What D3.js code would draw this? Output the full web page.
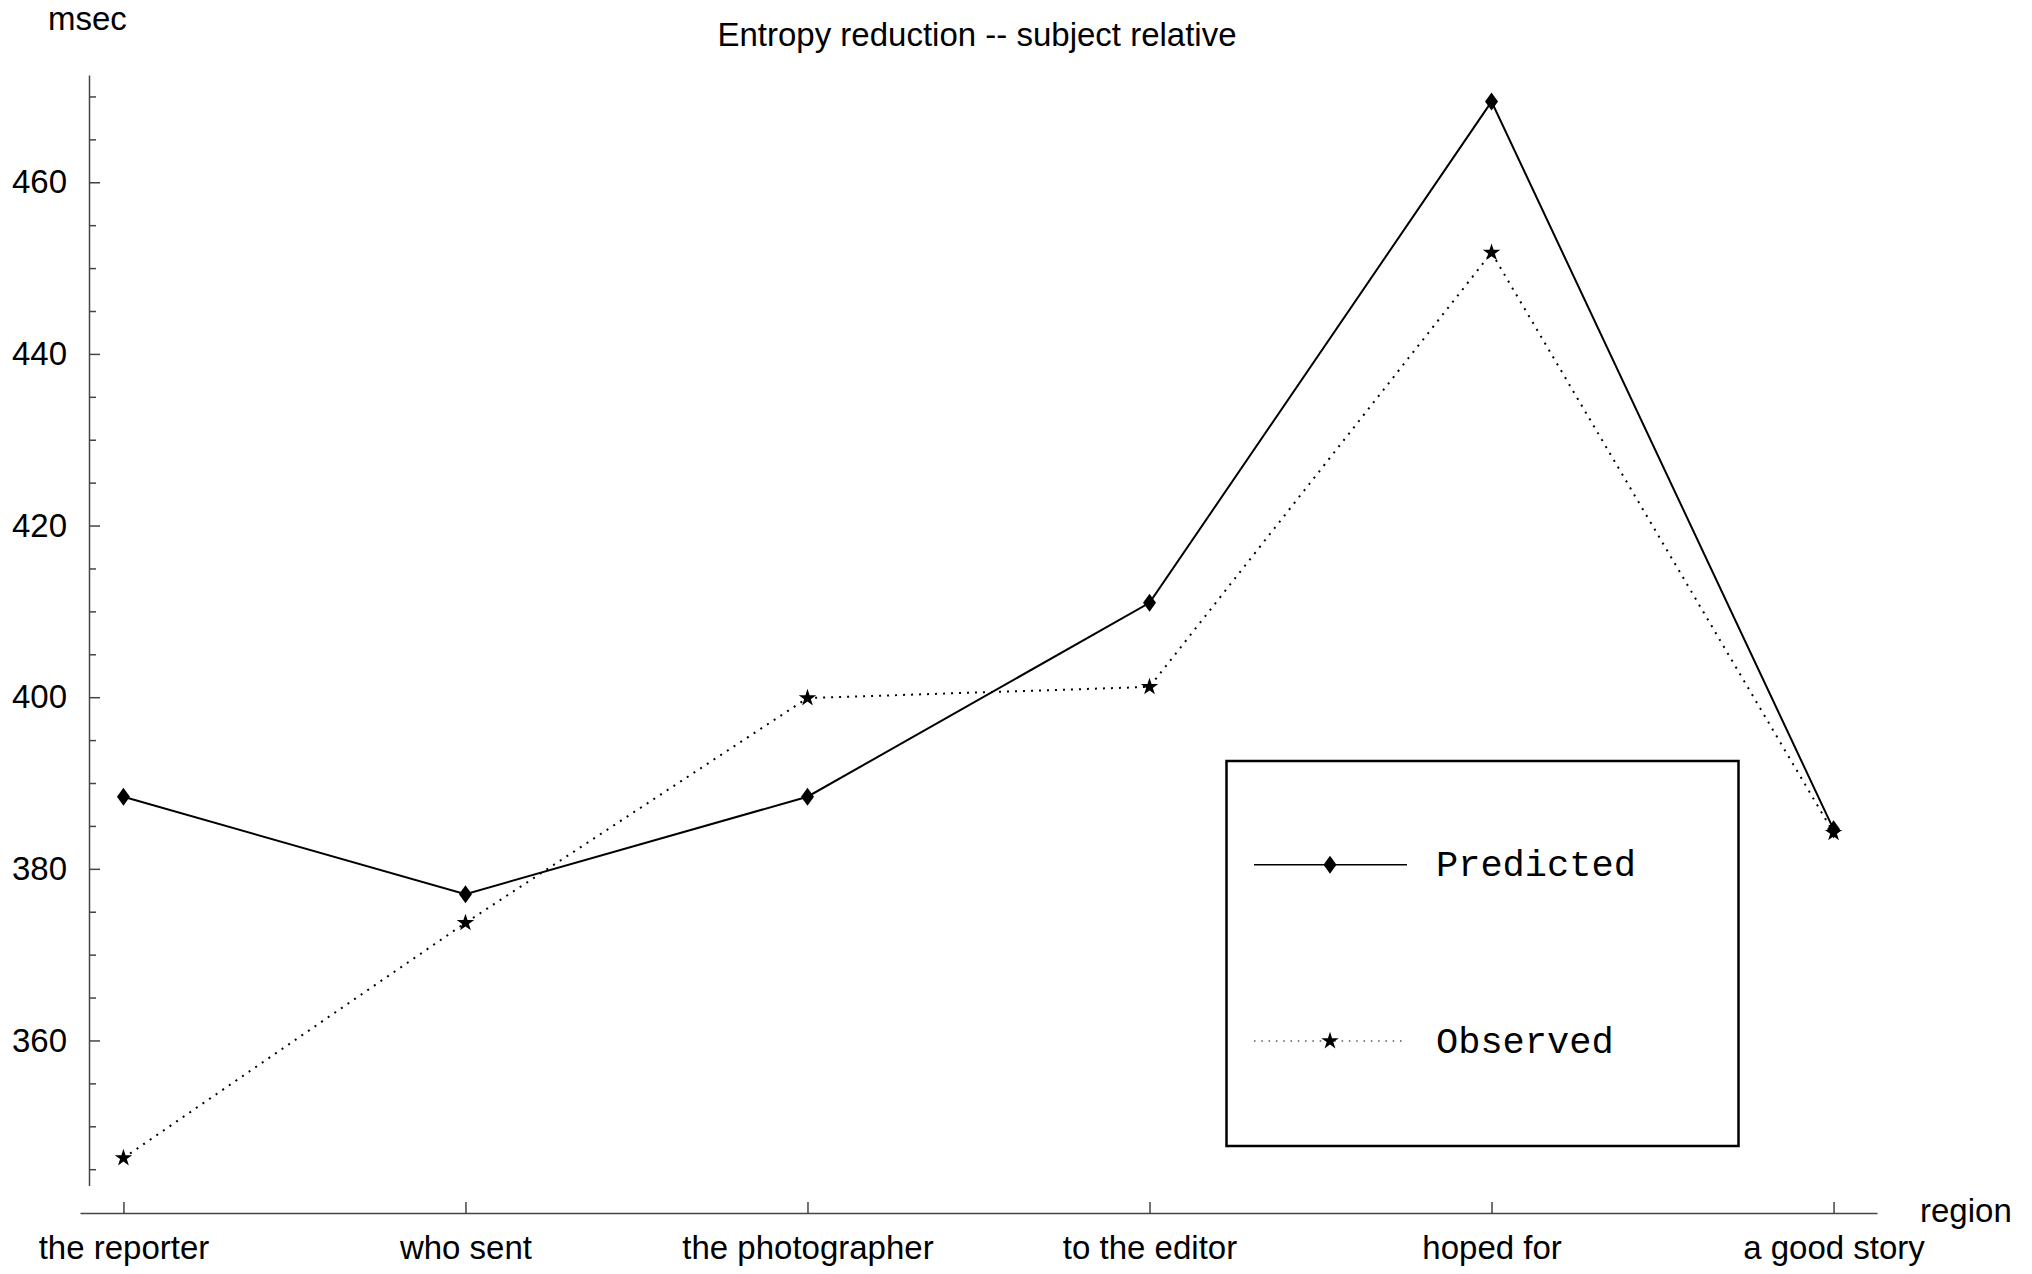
<!DOCTYPE html>
<html>
<head>
<meta charset="utf-8">
<script src="https://cdn.jsdelivr.net/npm/d3@7"></script>
<style>
  body { margin: 0; background: #fff; }
  text { font-family: "Liberation Sans", Arial, sans-serif; fill: #000; }
</style>
</head>
<body>
<div id="chart_div"></div>
<script>
// data
const regions = ["the reporter", "who sent", "the photographer", "to the editor", "hoped for", "a good story"];
const predicted = [388.4, 377.05, 388.4, 411.0, 469.4, 384.6];
const observed = [346.3, 373.7, 399.9, 401.2, 451.8, 384.2];
const majorTicks = [360, 380, 400, 420, 440, 460];
const minorTicks = [345, 350, 355, 365, 370, 375, 385, 390, 395, 405, 410, 415, 425, 430, 435, 445, 450, 455, 465, 470];
const seriesNames = ["Predicted", "Observed"];

const WIDTH = 2032;
const HEIGHT = 1274;
const FONT_SIZE = 33;

var svg = d3.select("#chart_div")
    .append("svg")
    .attr("width", WIDTH)
    .attr("height", HEIGHT);

var x = d3.scalePoint()
    .domain(regions)
    .range([80, 1877])
    .padding(0.127);

var y = d3.scaleLinear()
    .domain([343.1, 472.5])
    .range([1185.5, 75]);

const AXIS_X = 89;
const AXIS_Y = 1213;

// y axis, ticks point inward
var yAxis = svg.append("g")
    .attr("transform", "translate(" + AXIS_X + ",0)")
    .call(d3.axisLeft(y).tickValues(majorTicks).tickSizeInner(-11).tickSizeOuter(0).tickPadding(22));

svg.append("g")
    .attr("transform", "translate(" + AXIS_X + ",0)")
    .call(d3.axisLeft(y).tickValues(minorTicks).tickSizeInner(-7).tickSizeOuter(0).tickFormat(""))
    .select(".domain").remove();

// x axis
var xAxis = svg.append("g")
    .attr("transform", "translate(0," + AXIS_Y + ")")
    .call(d3.axisBottom(x).tickSizeInner(-11).tickSizeOuter(0).tickPadding(23));

svg.selectAll(".tick line, .domain")
    .attr("stroke", "#444")
    .attr("stroke-width", 1.5);

svg.selectAll(".tick text")
    .style("font-size", FONT_SIZE + "px")
    .style("font-family", "'Liberation Sans', Arial, sans-serif")
    .attr("fill", "#000");

// titles
svg.append("text")
    .attr("x", 977)
    .attr("y", 46)
    .attr("text-anchor", "middle")
    .style("font-size", FONT_SIZE + "px")
    .text("Entropy reduction -- subject relative");

svg.append("text")
    .attr("x", 48)
    .attr("y", 30)
    .style("font-size", FONT_SIZE + "px")
    .text("msec");

svg.append("text")
    .attr("x", 1920)
    .attr("y", 1222)
    .style("font-size", FONT_SIZE + "px")
    .text("region");

// lines
var line = d3.line()
    .x((d, i) => x(regions[i]))
    .y(d => y(d));

svg.append("path")
    .datum(predicted)
    .attr("fill", "none")
    .attr("stroke", "#000")
    .attr("stroke-width", 2)
    .attr("d", line);

svg.append("path")
    .datum(observed)
    .attr("fill", "none")
    .attr("stroke", "#000")
    .attr("stroke-width", 2)
    .attr("stroke-dasharray", "2,6")
    .attr("d", line);

// marker shapes
const diamondPath = "M0,-9L6.5,0L0,9L-6.5,0Z";
var star = d3.symbol().type(d3.symbolStar).size(95);

svg.append("g")
    .selectAll("path")
    .data(predicted)
    .enter()
    .append("path")
    .attr("d", diamondPath)
    .attr("transform", (d, i) => "translate(" + x(regions[i]) + "," + y(d) + ")")
    .attr("fill", "#000");

svg.append("g")
    .selectAll("path")
    .data(observed)
    .enter()
    .append("path")
    .attr("d", star)
    .attr("transform", (d, i) => "translate(" + x(regions[i]) + "," + y(d) + ")")
    .attr("fill", "#000");

// legend
var legend = svg.append("g");

legend.append("rect")
    .attr("x", 1226.5)
    .attr("y", 761)
    .attr("width", 512)
    .attr("height", 385)
    .attr("fill", "none")
    .attr("stroke", "#000")
    .attr("stroke-width", 2.5);

const legendRows = [864.7, 1041];

seriesNames.forEach((name, i) => {
    var ly = legendRows[i];
    legend.append("line")
        .attr("x1", 1254)
        .attr("x2", 1407)
        .attr("y1", ly)
        .attr("y2", ly)
        .attr("stroke", "#000")
        .attr("stroke-width", i == 0 ? 1.5 : 1.2)
        .attr("stroke-dasharray", i == 0 ? null : "1.5,5.8");

    legend.append("path")
        .attr("d", i == 0 ? diamondPath : star)
        .attr("transform", "translate(1330," + ly + ")")
        .attr("fill", "#000");

    legend.append("text")
        .attr("x", 1436)
        .attr("y", ly + 11.5)
        .style("font-family", "'Liberation Mono', 'Courier New', monospace")
        .style("font-size", "37px")
        .text(name);
});
</script>
</body>
</html>
